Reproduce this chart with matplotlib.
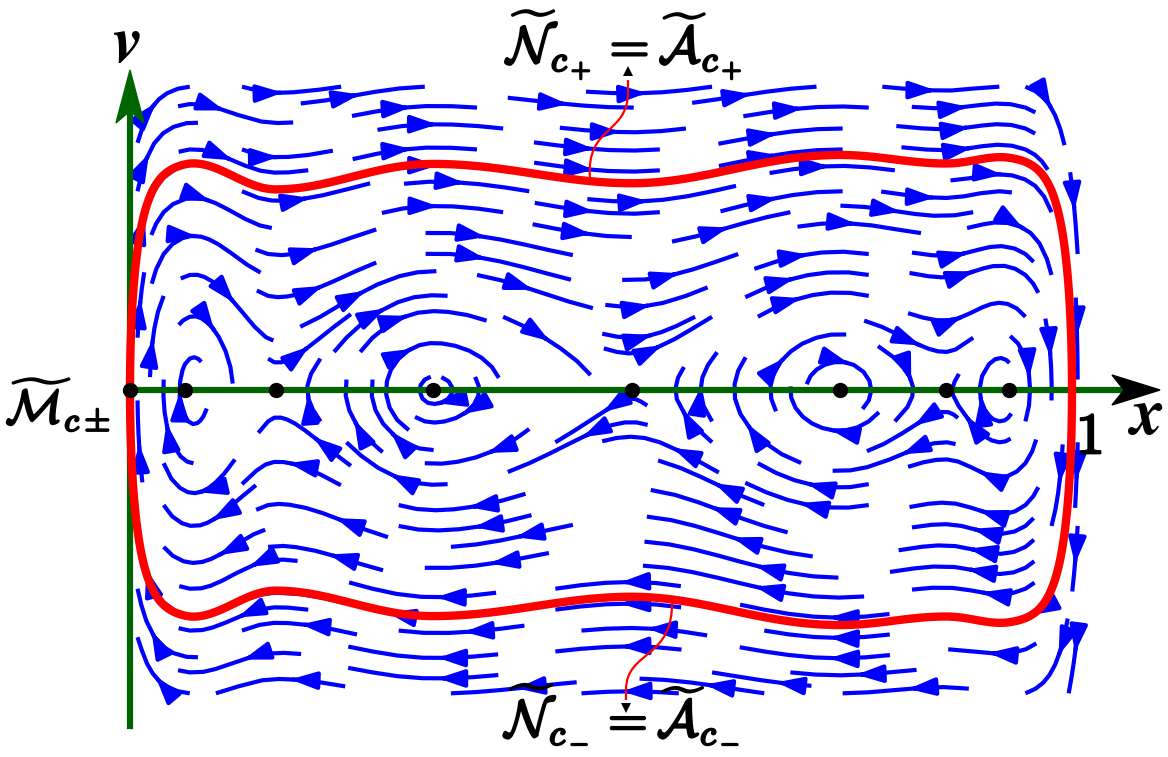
import numpy as np
import matplotlib
matplotlib.use("Agg")
import matplotlib.pyplot as plt
from matplotlib.path import Path
from matplotlib.patches import PathPatch
import matplotlib.patheffects as pe

plt.rcParams['mathtext.fontset'] = 'cm'

# equilibria on the x axis (centres and saddles)
eq_x = [0.0584, 0.155, 0.3213, 0.5326, 0.7537, 0.866, 0.9334]
# height of the red curve above / below each equilibrium
h_top = [0.246, 0.214, 0.241, 0.221, 0.252, 0.242, 0.252]
h_bot = [0.241, 0.212, 0.239, 0.218, 0.247, 0.239, 0.246]
# marked points (the one at x = 0 sits on the red curve)
dots_x = [0.0] + eq_x
wall_width = 0.017


def potential(x):
    xk = np.array(eq_x)
    hk = (np.array(h_top) + np.array(h_bot)) / 2
    vk = -0.5 * hk ** 2
    i = np.clip(np.searchsorted(xk, x) - 1, 0, len(xk) - 2)
    t = np.clip((x - xk[i]) / (xk[i + 1] - xk[i]), 0, 1)
    V = vk[i] + (vk[i + 1] - vk[i]) * (1 - np.cos(np.pi * t)) / 2
    # steep walls so the curves turn vertical at x = 0 and x = 1
    V = V - vk[0] * np.exp(-x / wall_width) - vk[-1] * np.exp(-(1 - x) / wall_width)
    return V


def px(a, b):
    # picture pixel -> data coords (annotation layout only)
    return ((a - 130) / 942, (390 - b) / 942)


fig = plt.figure(figsize=(11.68, 7.57), dpi=100)
ax = fig.add_axes([0, 0, 1, 1])
ax.set_xlim(-130 / 942, 1038 / 942)
ax.set_ylim(-367 / 942, 390 / 942)
ax.axis('off')

# stream lines
xs = np.linspace(0.008, 1.006, 400)
vs = np.linspace(-0.322, 0.322, 260)
X, Vv = np.meshgrid(xs, vs)
dV = np.gradient(potential(xs), xs)
U = Vv
W = -np.tile(dV, (len(vs), 1))
ax.streamplot(X, Vv, U, W, color='#0000ff', linewidth=3.0, density=(1.25, 1.0),
              arrowsize=2.6, arrowstyle='-|>,head_length=0.6,head_width=0.2',
              maxlength=0.3, zorder=2)

# axes
green = '#006400'
ax.plot([0, 0], [px(0, 726)[1], px(0, 115)[1]], color=green, lw=4.5, zorder=3)
ax.fill([0, 0.0149, 0, -0.0149], [px(0, 70)[1], px(0, 123)[1], px(0, 111)[1], px(0, 123)[1]],
        color=green, zorder=3)
ax.plot([0, px(1125, 0)[0]], [0, 0], color=green, lw=4.5, zorder=3)
ax.fill([px(1160, 0)[0], px(1112, 0)[0], px(1124, 0)[0], px(1112, 0)[0]],
        [0, 0.0159, 0, -0.0159], color='black', zorder=3)
ax.plot([1, 1], [px(0, 378)[1], px(0, 413)[1]], color='black', lw=4.5, zorder=4)

# red invariant curve
xc = np.linspace(-0.03, 1.03, 900)
vc = np.linspace(-0.32, 0.32, 700)
XC, VC = np.meshgrid(xc, vc)
H = 0.5 * VC ** 2 + potential(XC)
ax.contour(XC, VC, H, levels=[0], colors='red', linewidths=6, zorder=4)

ax.plot(dots_x, np.zeros(len(dots_x)), 'o', color='black', ms=10, zorder=5)


# annotation squiggles: thin red line, small black head
def squiggle(pts, tail, tip):
    codes = [Path.MOVETO, Path.CURVE4, Path.CURVE4, Path.CURVE4, Path.LINETO]
    ax.add_patch(PathPatch(Path([px(*p) for p in pts], codes), fc='none', ec='red',
                           lw=1.6, zorder=6))
    ax.annotate('', xy=px(*tip), xytext=px(*tail),
                arrowprops=dict(arrowstyle='-|>', color='black', lw=0, mutation_scale=18,
                                shrinkA=0, shrinkB=0), zorder=7)


squiggle([(590, 178), (586, 125), (628, 135), (628, 92), (628, 80)], (628, 80), (628, 66))
squiggle([(672, 600), (674, 660), (626, 650), (626, 690), (626, 700)], (626, 700), (626, 713))

stroke = [pe.withStroke(linewidth=1.6, foreground='black')]
ax.text(*px(625, 45), r'$\widetilde{\mathcal{N}}_{c_+} = \widetilde{\mathcal{A}}_{c_+}$',
        fontsize=37, ha='center', va='center', path_effects=stroke)
ax.text(*px(623, 718), r'$\widetilde{\mathcal{N}}_{c_-} = \widetilde{\mathcal{A}}_{c_-}$',
        fontsize=37, ha='center', va='center', path_effects=stroke)
ax.text(*px(58, 405), r'$\widetilde{\mathcal{M}}_{c\pm}$', fontsize=34,
        ha='center', va='center', path_effects=stroke)
ax.text(*px(128, 46), 'v', fontsize=48, family='STIXGeneral', style='italic',
        weight='bold', ha='center', va='center')
ax.text(*px(1148, 418), 'x', fontsize=48, family='STIXGeneral', style='italic',
        weight='bold', ha='center', va='center')
ax.text(*px(1089, 437), r'$\mathbf{1}$', fontsize=42, ha='center', va='center',
        path_effects=stroke)

fig.savefig('out.png', dpi=100)
